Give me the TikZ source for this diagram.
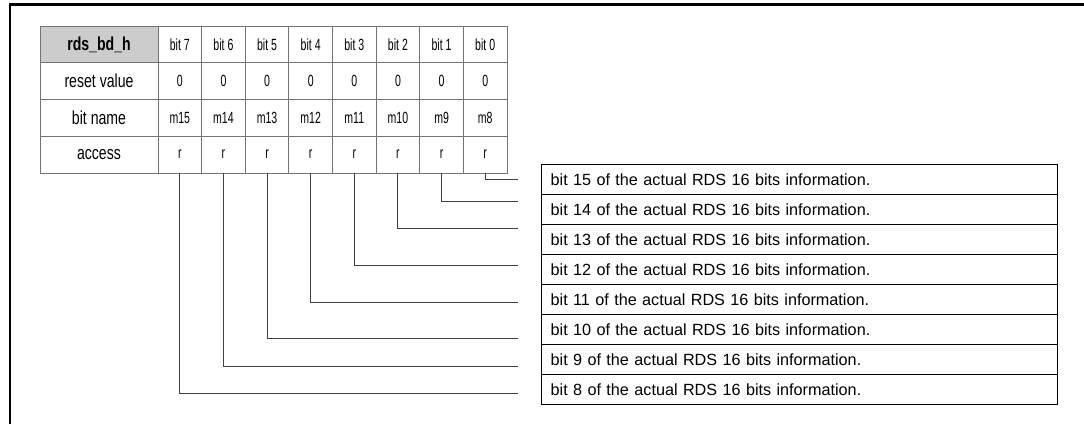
\documentclass[tikz,border=0pt]{standalone}
\usepackage{fontspec}
\setmainfont{Liberation Sans}
\newfontfamily\narrowfont[FakeStretch=0.75]{Liberation Sans}
\newfontfamily\narrowerfont[FakeStretch=0.65]{Liberation Sans}

\tikzset{
  regcell/.style={draw=gray!90!black, line width=0.8pt, minimum height=36.75pt, inner sep=0pt},
  headcell/.style={regcell, minimum width=118pt, font=\narrowfont\fontsize{18.8}{18.8}\selectfont},
  bitcell/.style={regcell, minimum width=43.625pt, font=\narrowerfont\fontsize{16.2}{16.2}\selectfont},
  descbox/.style={draw=black, line width=1.3pt, minimum height=30pt, inner xsep=9pt, text width=498pt, align=left, anchor=north west, font=\fontsize{16.2}{16.2}\selectfont},
  wire/.style={draw=black!75, line width=0.9pt}
}

\begin{document}
\begin{tikzpicture}[x=1pt,y=-1pt]
  \useasboundingbox (0,0) rectangle (1084,424);

  % Draw the frame
  \draw[line width=2.5pt] (10,424) -- (10,4.5) -- (1084,4.5);

  % Draw the first column of the register table
  \node[headcell, fill=gray!40] (regname) at (99,44.4) {\bfseries rds\_bd\_h};
  \node[headcell] (resetval) at (99,81.1) {reset value};
  \node[headcell] (bitname) at (99,117.9) {bit name};
  \node[headcell] (access) at (99,154.6) {access};

  % Draw the bit columns
  \foreach \i/\m in {7/15,6/14,5/13,4/12,3/11,2/10,1/9,0/8} {
    \pgfmathsetmacro\cx{158+43.625*(7-\i)+21.8125}
    \node[bitcell] (b\i) at (\cx,44.4) {bit \i};
    \node[bitcell] (r\i) at (\cx,81.1) {0};
    \node[bitcell] (n\i) at (\cx,117.9) {m\m};
    \node[bitcell] (a\i) at (\cx,154.6) {r};
  }

  % Draw the lines out of the access row
  \foreach \i/\y in {0/179,1/201,2/228,3/265,4/302,5/338,6/366,7/393} {
    \coordinate (w\i) at (518,\y);
    \draw[wire] (a\i.south) |- (w\i);
  }

  % Draw the descriptions
  \foreach \k/\b in {0/15,1/14,2/13,3/12,4/11,5/10,6/9,7/8} {
    \node[descbox] (d\b) at (541,{164+30*\k}) {bit \b\ of the actual RDS 16 bits information.};
  }

\end{tikzpicture}
\end{document}
